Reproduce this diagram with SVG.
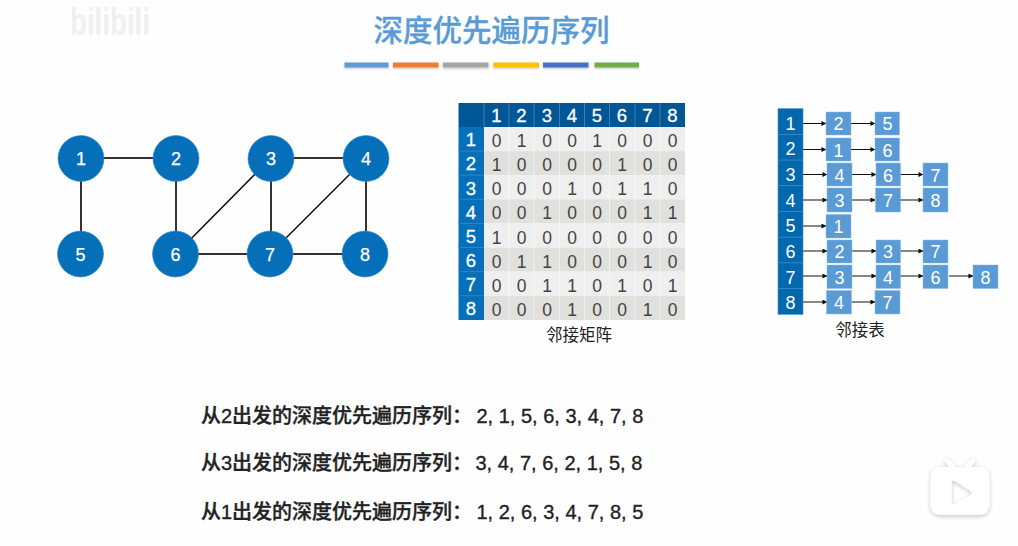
<svg xmlns="http://www.w3.org/2000/svg" width="1018" height="546" viewBox="0 0 1018 546">
<style>
text{font-family:"Liberation Sans","Noto Sans CJK SC",sans-serif;text-anchor:middle}
.cjk{font-family:"Noto Sans CJK SC","Liberation Sans",sans-serif}
.title{font-size:29.5px;font-weight:500;fill:#5b9bd5;stroke:#5b9bd5;stroke-width:.3}
.edge{stroke:#333;stroke-width:2;fill:none}
.diag{stroke:#111;stroke-width:1.5;fill:none}
.gn{fill:#0570b9;stroke:#3a8cc6;stroke-width:.6}
.gt{font-size:18px;fill:#fff;stroke:#fff;stroke-width:.25}
.mh{fill:#015696}.ms{fill:#0570b9}
.ra{fill:#efefef}.rb{fill:#e0e0dd}
.gl{stroke:#fff;stroke-width:1;opacity:.55}
.hl{stroke:#3f7fb5;stroke-width:1}
.mt{font-size:18.5px;fill:#fff;stroke:#fff;stroke-width:.3}
.mc{font-size:17.500px;fill:#444}
.cap{font-size:16.500px;fill:#222}
.hd{fill:#0368ae;stroke:#3a8cc6;stroke-width:.6}
.cell{fill:#5b9bd5;stroke:#8dbce6;stroke-width:.5}
.lt{font-size:18px;fill:#fff}
.arr{stroke:#111;stroke-width:1;fill:none;marker-end:url(#a)}
.seq{font-size:20px;font-weight:500;fill:#222;stroke:#222;stroke-width:.35;text-anchor:start}
</style>
<defs>
<marker id="a" viewBox="0 0 6 6" refX="5.5" refY="3" markerWidth="5" markerHeight="5" markerUnits="userSpaceOnUse" orient="auto"><path d="M0 0L6 3L0 6Z" fill="#111"/></marker>
<filter id="sh" x="-30%" y="-30%" width="160%" height="160%"><feDropShadow dx="0" dy="1.5" stdDeviation="2" flood-color="#000" flood-opacity=".22"/></filter>
<filter id="bs" x="-5%" y="-50%" width="110%" height="250%"><feDropShadow dx="0" dy="1" stdDeviation="1" flood-color="#000" flood-opacity=".25"/></filter>
</defs>
<rect width="1018" height="546" fill="#fefefe"/>
<text x="70" y="35" font-size="38" font-weight="700" fill="#f0f0f0" style="text-anchor:start" textLength="80" lengthAdjust="spacingAndGlyphs">bilibili</text>
<text class="cjk title" x="491.500" y="41">深度优先遍历序列</text>
<g id="bars" filter="url(#bs)">
<rect x="344.500" y="62.500" width="44" height="5" fill="#5b9bd5"/>
<rect x="393" y="62.500" width="45.500" height="5" fill="#ed7d31"/>
<rect x="443" y="62.500" width="45.500" height="5" fill="#a5a5a5"/>
<rect x="493.500" y="62.500" width="45.500" height="5" fill="#ffc000"/>
<rect x="543" y="62.500" width="45.500" height="5" fill="#4472c4"/>
<rect x="594.500" y="62.500" width="44.500" height="5" fill="#70ad47"/>
</g>
<g id="connectors">
<path class="edge" d="M81 158H176M81 158V254M176 158V254M271 158H366M271 158V254M366 158V254M176 254H365"/>
<path class="diag" d="M271 158L176 254M366 158L270 254"/>
</g>
<g id="n1"><circle class="gn" cx="81" cy="158.500" r="23"/><text class="gt" x="81" y="164.500">1</text></g>
<g id="n2"><circle class="gn" cx="176" cy="158.500" r="23"/><text class="gt" x="176" y="164.500">2</text></g>
<g id="n3"><circle class="gn" cx="271" cy="158.500" r="23"/><text class="gt" x="271" y="164.500">3</text></g>
<g id="n4"><circle class="gn" cx="366" cy="158.500" r="23"/><text class="gt" x="366" y="164.500">4</text></g>
<g id="n5"><circle class="gn" cx="80.500" cy="254" r="23"/><text class="gt" x="80.500" y="260.500">5</text></g>
<g id="n6"><circle class="gn" cx="175.500" cy="254" r="23"/><text class="gt" x="175.500" y="260.500">6</text></g>
<g id="n7"><circle class="gn" cx="270" cy="254" r="23"/><text class="gt" x="270" y="260.500">7</text></g>
<g id="n8"><circle class="gn" cx="365" cy="254" r="23"/><text class="gt" x="365" y="260.500">8</text></g>
<g id="matrix">
<rect class="mh" x="458.500" y="103" width="226.500" height="24"/>
<rect class="ms" x="458.500" y="127" width="25.500" height="193"/>
<rect class="ra" x="484" y="127" width="201" height="24.100"/>
<rect class="rb" x="484" y="151.100" width="201" height="24.100"/>
<rect class="ra" x="484" y="175.200" width="201" height="24.100"/>
<rect class="rb" x="484" y="199.300" width="201" height="24.100"/>
<rect class="ra" x="484" y="223.400" width="201" height="24.100"/>
<rect class="rb" x="484" y="247.500" width="201" height="24.100"/>
<rect class="ra" x="484" y="271.600" width="201" height="24.100"/>
<rect class="rb" x="484" y="295.700" width="201" height="24.300"/>
<path class="hl" d="M484 103V127M509 103V127M534 103V127M559.500 103V127M584.500 103V127M609.500 103V127M635 103V127M660 103V127M458.500 151.100H484M458.500 175.200H484M458.500 199.300H484M458.500 223.400H484M458.500 247.500H484M458.500 271.600H484M458.500 295.700H484"/>
<path class="gl" d="M509 127V320M534 127V320M559.500 127V320M584.500 127V320M609.500 127V320M635 127V320M660 127V320"/>
<text class="mt" x="496.500" y="122">1</text><text class="mt" x="521.500" y="122">2</text><text class="mt" x="547" y="122">3</text><text class="mt" x="572" y="122">4</text><text class="mt" x="597" y="122">5</text><text class="mt" x="622" y="122">6</text><text class="mt" x="647.500" y="122">7</text><text class="mt" x="672.500" y="122">8</text>
<text class="mt" x="471" y="146">1</text><text class="mt" x="471" y="170">2</text><text class="mt" x="471" y="195">3</text><text class="mt" x="471" y="219">4</text><text class="mt" x="471" y="243">5</text><text class="mt" x="471" y="267">6</text><text class="mt" x="471" y="291">7</text><text class="mt" x="471" y="315">8</text>
<text class="mc" x="496.500" y="147">0</text><text class="mc" x="521.500" y="147">1</text><text class="mc" x="547" y="147">0</text><text class="mc" x="572" y="147">0</text><text class="mc" x="597" y="147">1</text><text class="mc" x="622" y="147">0</text><text class="mc" x="647.500" y="147">0</text><text class="mc" x="672.500" y="147">0</text>
<text class="mc" x="496.500" y="171">1</text><text class="mc" x="521.500" y="171">0</text><text class="mc" x="547" y="171">0</text><text class="mc" x="572" y="171">0</text><text class="mc" x="597" y="171">0</text><text class="mc" x="622" y="171">1</text><text class="mc" x="647.500" y="171">0</text><text class="mc" x="672.500" y="171">0</text>
<text class="mc" x="496.500" y="195">0</text><text class="mc" x="521.500" y="195">0</text><text class="mc" x="547" y="195">0</text><text class="mc" x="572" y="195">1</text><text class="mc" x="597" y="195">0</text><text class="mc" x="622" y="195">1</text><text class="mc" x="647.500" y="195">1</text><text class="mc" x="672.500" y="195">0</text>
<text class="mc" x="496.500" y="219">0</text><text class="mc" x="521.500" y="219">0</text><text class="mc" x="547" y="219">1</text><text class="mc" x="572" y="219">0</text><text class="mc" x="597" y="219">0</text><text class="mc" x="622" y="219">0</text><text class="mc" x="647.500" y="219">1</text><text class="mc" x="672.500" y="219">1</text>
<text class="mc" x="496.500" y="243.500">1</text><text class="mc" x="521.500" y="243.500">0</text><text class="mc" x="547" y="243.500">0</text><text class="mc" x="572" y="243.500">0</text><text class="mc" x="597" y="243.500">0</text><text class="mc" x="622" y="243.500">0</text><text class="mc" x="647.500" y="243.500">0</text><text class="mc" x="672.500" y="243.500">0</text>
<text class="mc" x="496.500" y="267.500">0</text><text class="mc" x="521.500" y="267.500">1</text><text class="mc" x="547" y="267.500">1</text><text class="mc" x="572" y="267.500">0</text><text class="mc" x="597" y="267.500">0</text><text class="mc" x="622" y="267.500">0</text><text class="mc" x="647.500" y="267.500">1</text><text class="mc" x="672.500" y="267.500">0</text>
<text class="mc" x="496.500" y="291.500">0</text><text class="mc" x="521.500" y="291.500">0</text><text class="mc" x="547" y="291.500">1</text><text class="mc" x="572" y="291.500">1</text><text class="mc" x="597" y="291.500">0</text><text class="mc" x="622" y="291.500">1</text><text class="mc" x="647.500" y="291.500">0</text><text class="mc" x="672.500" y="291.500">1</text>
<text class="mc" x="496.500" y="315.500">0</text><text class="mc" x="521.500" y="315.500">0</text><text class="mc" x="547" y="315.500">0</text><text class="mc" x="572" y="315.500">1</text><text class="mc" x="597" y="315.500">0</text><text class="mc" x="622" y="315.500">0</text><text class="mc" x="647.500" y="315.500">1</text><text class="mc" x="672.500" y="315.500">0</text>
<text class="cjk cap" x="579" y="341">邻接矩阵</text>
</g>
<g id="list-connectors">
<path class="arr" d="M803 123.500H826"/><path class="arr" d="M851 123.500H875"/>
<path class="arr" d="M803 149.500H826"/><path class="arr" d="M851 149.500H875"/>
<path class="arr" d="M803 174.500H827"/><path class="arr" d="M852 174.500H876"/><path class="arr" d="M900 174.500H923"/>
<path class="arr" d="M803 200H827"/><path class="arr" d="M852 200H875"/><path class="arr" d="M900 200H923"/>
<path class="arr" d="M803 226H826"/>
<path class="arr" d="M803 251H827"/><path class="arr" d="M852 251H876"/><path class="arr" d="M900 251H923"/>
<path class="arr" d="M803 276H827"/><path class="arr" d="M852 276H876"/><path class="arr" d="M900 276H923"/><path class="arr" d="M949 276H973"/>
<path class="arr" d="M803 302H827"/><path class="arr" d="M851 302H875"/>
</g>
<g id="list">
<rect class="hd" x="778" y="108.700" width="25" height="25.700"/><text class="lt" x="790.500" y="129.500">1</text>
<rect class="hd" x="778" y="134.400" width="25" height="25.700"/><text class="lt" x="790.500" y="155">2</text>
<rect class="hd" x="778" y="160.100" width="25" height="25.700"/><text class="lt" x="790.500" y="181">3</text>
<rect class="hd" x="778" y="185.800" width="25" height="25.700"/><text class="lt" x="790.500" y="206.500">4</text>
<rect class="hd" x="778" y="211.500" width="25" height="25.700"/><text class="lt" x="790.500" y="231.500">5</text>
<rect class="hd" x="778" y="237.200" width="25" height="25.700"/><text class="lt" x="790.500" y="258">6</text>
<rect class="hd" x="778" y="262.900" width="25" height="25.700"/><text class="lt" x="790.500" y="283.500">7</text>
<rect class="hd" x="778" y="288.600" width="25" height="25.700"/><text class="lt" x="790.500" y="308.500">8</text>
<rect class="cell" x="826" y="112" width="25" height="23"/><text class="lt" x="838.500" y="130">2</text>
<rect class="cell" x="875" y="112" width="24.500" height="23"/><text class="lt" x="887.500" y="130">5</text>
<rect class="cell" x="826" y="138" width="25" height="23"/><text class="lt" x="838.500" y="157">1</text>
<rect class="cell" x="875" y="138" width="24.500" height="23"/><text class="lt" x="887.500" y="157">6</text>
<rect class="cell" x="827" y="163" width="25" height="23"/><text class="lt" x="839.500" y="182">4</text>
<rect class="cell" x="876" y="163" width="24.500" height="23"/><text class="lt" x="888" y="182">6</text>
<rect class="cell" x="923" y="163" width="25" height="23"/><text class="lt" x="935.500" y="182">7</text>
<rect class="cell" x="827" y="188" width="25" height="24"/><text class="lt" x="839.500" y="207">3</text>
<rect class="cell" x="875.500" y="188" width="25" height="24"/><text class="lt" x="888" y="207">7</text>
<rect class="cell" x="923" y="188" width="25" height="24"/><text class="lt" x="935.500" y="207">8</text>
<rect class="cell" x="826" y="214.500" width="25" height="23.500"/><text class="lt" x="838.500" y="233">1</text>
<rect class="cell" x="827" y="240" width="25" height="23"/><text class="lt" x="839.500" y="258">2</text>
<rect class="cell" x="876" y="240" width="24.500" height="23"/><text class="lt" x="888" y="258">3</text>
<rect class="cell" x="923" y="240" width="25" height="23"/><text class="lt" x="935.500" y="258">7</text>
<rect class="cell" x="827" y="265" width="25" height="23.500"/><text class="lt" x="839.500" y="284">3</text>
<rect class="cell" x="876" y="265" width="24.500" height="23.500"/><text class="lt" x="888" y="284">4</text>
<rect class="cell" x="923" y="265" width="25" height="23.500"/><text class="lt" x="935.500" y="284">6</text>
<rect class="cell" x="973" y="265" width="25" height="23.500"/><text class="lt" x="985.500" y="284">8</text>
<rect class="cell" x="826.500" y="290.500" width="25" height="23.500"/><text class="lt" x="839" y="309">4</text>
<rect class="cell" x="875" y="290.500" width="25" height="23.500"/><text class="lt" x="887.500" y="309">7</text>
<text class="cjk cap" x="860" y="336">邻接表</text>
</g>
<text class="seq" x="201" y="423">从2出发的深度优先遍历序列：<tspan x="476.500">2, 1, 5, 6, 3, 4, 7, 8</tspan></text>
<text class="seq" x="201" y="470">从3出发的深度优先遍历序列：<tspan x="475.500">3, 4, 7, 6, 2, 1, 5, 8</tspan></text>
<text class="seq" x="201" y="519">从1出发的深度优先遍历序列：<tspan x="476.500">1, 2, 6, 3, 4, 7, 8, 5</tspan></text>
<g id="play" filter="url(#sh)">
<path d="M953 467L947 460.500M967 467L973 460.500" stroke="#fff" stroke-width="5" stroke-linecap="round"/>
<path fill-rule="evenodd" fill="#fff" d="M942 467H978Q989.500 467 989.500 479V503Q989.500 515 978 515H942Q930.500 515 930.500 503V479Q930.500 467 942 467ZM951.500 483V502Q951.500 505.500 955 504L970.500 495Q973 493 970.500 491L955 481Q951.500 479.500 951.500 483Z"/>
</g>
</svg>
